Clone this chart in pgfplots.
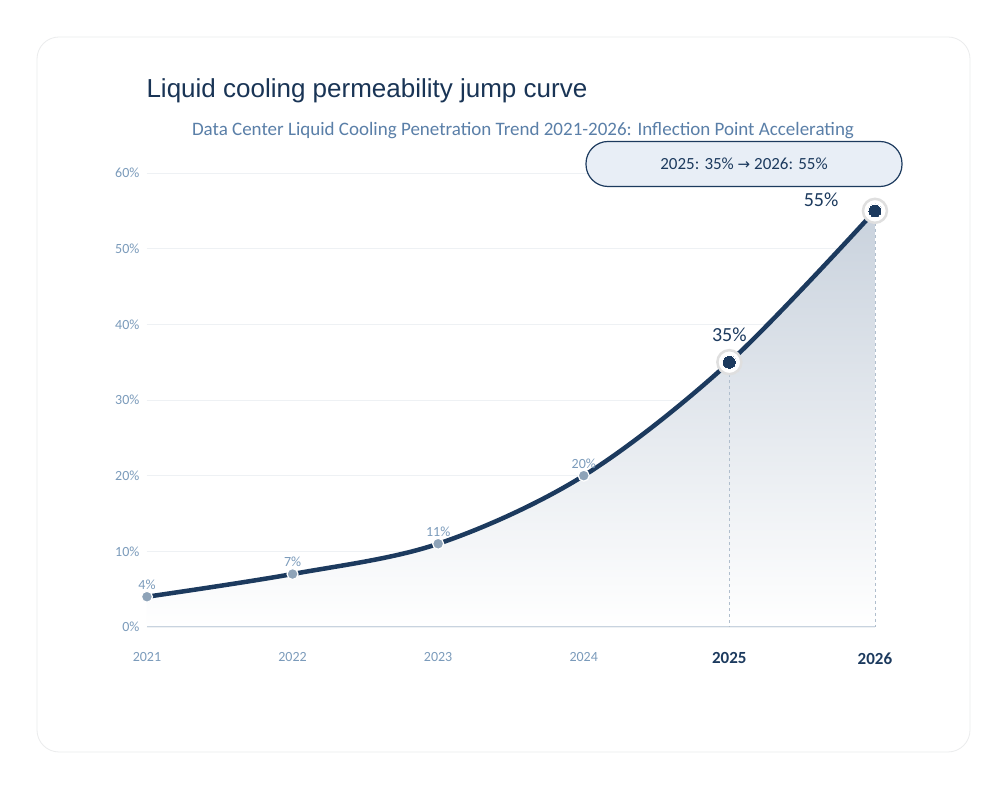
\documentclass[border=0pt]{standalone}
\usepackage{fontspec}
\setmainfont{Carlito}
\newfontfamily\titlefont{Liberation Sans}
\newfontfamily\symfont{DejaVu Sans}
\usepackage{pgfplots}
\pgfplotsset{compat=1.18}
\definecolor{navy}{HTML}{1C3A5E}
\definecolor{ticktxt}{HTML}{7B9BBB}
\definecolor{sub}{HTML}{5A7FA8}
\definecolor{ptgray}{HTML}{8EA3B8}
\definecolor{gridc}{HTML}{EEF1F4}
\definecolor{axc}{HTML}{C8D3DF}
\definecolor{boxfill}{HTML}{E8EEF6}
\definecolor{areatop}{HTML}{C9D2DD}
\begin{document}
\begin{tikzpicture}[x=1pt,y=1pt]
\path[use as bounding box,fill=white] (0,0) rectangle (1007,800);
\draw[draw=gridc!70!gray!40,fill=white,rounded corners=22pt,line width=0.8pt] (37,48) rectangle (970,763);
\node[anchor=base west,font=\titlefont\fontsize{26}{30}\selectfont,text=navy!90!black] at (143,702) {Liquid cooling permeability jump curve};
\node[anchor=base,font=\fontsize{19}{22}\selectfont,text=sub] at (523,664) {Data Center Liquid Cooling Penetration Trend 2021-2026: Inflection Point Accelerating};
\begin{axis}[at={(147pt,173pt)},anchor=south west,scale only axis,width=728pt,height=454pt,
  xmin=2021,xmax=2026,ymin=0,ymax=60,clip=false,
  axis line style={draw=none},
  xtick={2021,...,2026},
  xticklabels={2021,2022,2023,2024,{\fontsize{17}{20}\selectfont\bfseries\color{navy}2025},{\fontsize{17}{20}\selectfont\bfseries\color{navy}2026}},
  ytick={0,10,...,60},
  yticklabels={0\%,10\%,20\%,30\%,40\%,50\%,60\%},
  tick style={draw=none},
  ymajorgrids, grid style={gridc,line width=0.8pt},
  ticklabel style={font=\fontsize{14}{16}\selectfont,text=ticktxt},
  xticklabel style={yshift=-22pt},
  yticklabel style={xshift=-4pt},
  /pgf/number format/assume math mode=true]
\addplot[draw=none,shade,top color=areatop,bottom color=white,smooth,tension=0.55] coordinates {(2021,4)(2022,7)(2023,11)(2024,20)(2025,35)(2026,55)} \closedcycle;
\draw[axc,line width=1pt] (axis cs:2021,0) -- (axis cs:2026,0);
\draw[dashed,ptgray!70,line width=0.8pt] (axis cs:2025,35) -- (axis cs:2025,0);
\draw[dashed,ptgray!70,line width=0.8pt] (axis cs:2026,55) -- (axis cs:2026,0);
\addplot[navy,line width=4.5pt,smooth,tension=0.55] coordinates {(2021,4)(2022,7)(2023,11)(2024,20)(2025,35)(2026,55)};
\addplot[only marks,mark=*,mark size=5.5pt,mark options={fill=ptgray,draw=white,line width=1.2pt},
  nodes near coords={\fontsize{14}{16}\selectfont\color{ticktxt}\pgfmathprintnumber{\pgfplotspointmeta}\%},
  nodes near coords style={anchor=south,yshift=3pt}] coordinates {(2021,4)(2022,7)(2023,11)(2024,20)};
\addplot[only marks,mark=*,mark size=12pt,mark options={fill=white,draw=gray!25,line width=2.5pt}] coordinates {(2025,35)(2026,55)};
\addplot[only marks,mark=*,mark size=7pt,mark options={fill=navy,draw=white,line width=0pt}] coordinates {(2025,35)(2026,55)};
\node[anchor=south,font=\fontsize{20}{24}\selectfont,text=navy] at (axis cs:2025,37.2) {35\%};
\node[anchor=south east,font=\fontsize{20}{24}\selectfont,text=navy] at (axis cs:1995.7,55.4) {};
\node[anchor=base,font=\fontsize{20}{24}\selectfont,text=navy] at (axis cs:2025.63,55.6) {55\%};
\end{axis}
\node[draw=navy,line width=1.2pt,fill=boxfill,rounded corners=22pt,minimum width=316pt,minimum height=45pt,font=\fontsize{17}{20}\selectfont,text=navy] at (744,636) {2025: 35\% {\symfont\fontsize{15}{18}\selectfont →} 2026: 55\%};
\end{tikzpicture}
\end{document}
